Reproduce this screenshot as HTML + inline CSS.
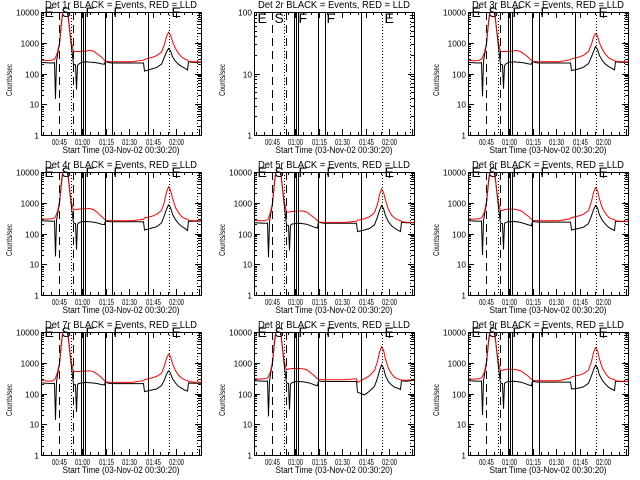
<!DOCTYPE html>
<html><head><meta charset="utf-8"><style>
html,body{margin:0;padding:0;background:#fff;}
svg{display:block;font-family:"Liberation Sans",sans-serif;}
line,rect{shape-rendering:crispEdges;}
</style></head><body>
<svg id="chart" width="640" height="480" viewBox="0 0 640 480" xmlns="http://www.w3.org/2000/svg">
<rect x="0" y="0" width="640" height="480" fill="#fff"/>
</svg>
<script>
// time grid, minutes since 00:00
const times = [33.5,36.7,39.9,41.8,42.5,43.1,43.8,45.0,46.3,47.6,48.9,50.2,51.4,52.7,54.0,55.3,55.9,56.6,57.2,59.1,62.3,64.3,66.8,69.4,72.0,73.9,74.5,75.8,78.4,91.2,98.9,99.5,104.0,107.2,110.4,112.4,113.7,114.9,116.2,117.5,119.4,121.3,123.3,125.2,127.1,127.7,131.0,136.0];
const detNames = ["1r","2r","3r","4r","5r","6r","7r","8r","9r"];
const red1 = [270,265,270,290,330,400,500,1000,5000,15000,20000,12000,3000,1000,520,520,520,520,520,530,540,570,530,430,340,270,250,245,240,240,270,290,330,380,500,900,1600,2200,1800,1100,650,450,350,300,270,250,240,240];
const blk1 = [230,225,220,225,15,250,400,900,4500,14000,18000,11000,2800,700,200,190,30,180,200,230,240,235,230,220,205,200,260,230,220,220,220,120,140,155,200,350,500,650,550,350,250,200,170,150,130,240,230,230];
const red3 = [270,260,265,290,330,400,500,1000,5000,15000,20000,12000,3000,1000,520,520,520,520,520,530,540,560,520,420,330,270,250,245,240,240,280,300,340,390,520,900,1500,2000,1700,1000,600,420,330,290,260,250,240,240];
const blk3 = [230,225,220,225,18,250,400,900,4500,14000,18000,11000,2800,700,200,190,32,180,200,230,240,235,230,220,205,200,255,230,220,220,220,125,140,160,210,350,520,750,600,380,260,200,170,150,130,240,230,230];
const red4 = [300,290,300,320,360,430,520,1100,5500,15000,20000,12000,3000,1000,600,600,610,620,620,630,640,650,600,480,360,290,270,265,260,260,290,320,360,420,560,1100,2200,3300,2600,1400,700,480,360,310,290,270,260,260];
const blk4 = [260,255,250,255,18,260,420,950,4500,14000,18000,11000,2800,700,220,210,30,200,220,240,245,240,235,220,200,195,260,245,240,240,240,130,150,165,220,400,600,850,700,420,280,210,170,150,125,250,250,250];
const red5 = [270,260,260,280,320,400,500,1000,5000,15000,20000,12000,3000,1000,500,500,500,510,520,530,540,540,500,400,320,260,240,235,230,230,250,270,300,350,480,900,1800,2800,2200,1200,600,400,320,280,260,245,230,230];
const blk5 = [225,220,215,220,17,240,400,900,4500,14000,18000,11000,2800,700,190,180,28,180,200,210,215,210,200,180,160,150,240,225,215,215,215,115,130,145,190,350,550,800,650,380,240,180,150,130,115,230,225,225];
const red6 = [300,290,300,320,360,430,520,1100,5500,15000,20000,12000,3000,1000,560,560,570,600,610,620,620,600,560,450,360,290,270,265,260,260,300,330,370,420,560,1100,2100,3100,2500,1300,650,450,340,300,280,260,250,250];
const blk6 = [260,255,250,255,20,260,420,950,4500,14000,18000,11000,2800,700,220,210,30,210,230,240,245,240,230,210,190,180,255,240,235,235,235,130,145,160,210,380,580,820,680,400,260,200,160,140,125,250,245,245];
const red7 = [270,255,250,280,320,400,500,1000,5000,15000,20000,12000,3000,1000,520,520,520,520,520,530,540,550,510,420,330,260,240,235,230,230,260,280,320,360,450,800,1400,1900,1600,950,550,400,320,280,260,245,235,235];
const blk7 = [220,215,210,215,14,240,400,900,4500,14000,18000,11000,2800,700,200,190,25,190,210,220,230,225,220,210,195,190,250,220,210,210,210,115,130,140,180,280,420,550,460,300,220,170,150,130,120,220,215,215];
const red8 = [300,295,300,320,360,430,520,1100,5500,15000,20000,12000,3000,1000,600,620,630,640,650,650,650,640,600,480,370,300,290,285,280,280,300,230,300,380,560,1100,2200,3300,2600,1300,650,440,340,300,280,270,270,280];
const blk8 = [260,255,250,255,18,260,420,950,4500,14000,18000,11000,2800,700,220,210,30,200,220,240,245,240,230,215,190,180,260,250,245,245,245,110,90,120,170,320,550,850,680,380,240,190,160,150,135,260,250,270];
const red9 = [300,290,300,320,360,430,520,1100,5500,15000,20000,12000,3000,1000,560,560,580,600,610,620,610,590,550,450,360,290,270,265,260,260,320,350,390,440,580,1100,2100,3100,2500,1300,650,450,340,300,280,260,250,250];
const blk9 = [260,255,250,255,20,260,420,950,4500,14000,18000,11000,2800,700,220,210,32,210,230,245,250,245,235,215,190,180,255,240,235,235,235,140,150,165,215,380,580,830,680,400,260,200,160,140,125,250,245,245];
const redSeries = [red1,null,red3,red4,red5,red6,red7,red8,red9];
const blkSeries = [blk1,null,blk3,blk4,blk5,blk6,blk7,blk8,blk9];
// event marker times (minutes)
const dashedTimes = [45.0,54.3];
const dottedTimes = [52.4,115.6,133.5];
const solidTimes = [59.1,60.4,61.7,74.8,79.0,102.1];
const letterTimes = [35.4,46.5,62.0,79.5,116.5];
const letterText = ["E","S","F","F","E"];
const xTickTimes = [45,60,75,90,105,120];
const xTickLabels = ["00:45","01:00","01:15","01:30","01:45","02:00"];

const NS = "http://www.w3.org/2000/svg";
const svg = document.getElementById("chart");
const T0 = 33.5, T1 = 136.0;
const PL = 41, PR = 201, PT = 12, PB = 135;
function mk(tag, attrs, parent){ const e=document.createElementNS(NS,tag); for(const k in attrs) e.setAttribute(k,attrs[k]); parent.appendChild(e); return e; }
function xs(t){ return Math.round(PL + (t - T0) / (T1 - T0) * (PR - PL)) + 0.5; }

for (let i = 0; i < 9; i++) {
  const col = i % 3, row = Math.floor(i / 3);
  const g = mk("g", {transform: "translate(" + Math.round(col * 213.33) + "," + (row * 160) + ")"}, svg);
  
  
  const empty = (i === 1);
  const decades = empty ? 2 : 4;
  function ys(v){ return PB - Math.log10(v) / decades * (PB - PT); }
  const cp = mk("clipPath", {id: "clip" + i}, g);
  mk("rect", {x: PL, y: PT, width: PR - PL, height: PB - PT}, cp);

  const title = mk("text", {x: 121, y: 8, "font-size": 10, "text-anchor": "middle", textLength: 152, lengthAdjust: "spacingAndGlyphs"}, g);
  title.textContent = "Det " + detNames[i] + " BLACK = Events, RED = LLD";
  
  

  if (!empty) {
    const dg = mk("g", {"clip-path": "url(#clip" + i + ")"}, g);
    const bp = times.map((t, k) => xs(t).toFixed(1) + "," + ys(blkSeries[i][k]).toFixed(1)).join(" ");
    const bl = mk("polyline", {points: bp, fill: "none", stroke: "#000", "stroke-width": 1}, dg);
    
    
    const rp = times.map((t, k) => xs(t).toFixed(1) + "," + ys(redSeries[i][k]).toFixed(1)).join(" ");
    const rl = mk("polyline", {points: rp, fill: "none", stroke: "#ff0000", "stroke-width": 1}, dg);
    
    
  }
  dashedTimes.forEach(t => { const l = mk("line", {x1: xs(t), x2: xs(t), y1: PT, y2: PB, stroke: "#000", "stroke-dasharray": "8,5"}, g);
      });
  dottedTimes.forEach(t => { const l = mk("line", {x1: xs(t), x2: xs(t), y1: PT, y2: PB, stroke: "#000", "stroke-dasharray": "1,2"}, g);
      });
  solidTimes.forEach(t => { const l = mk("line", {x1: xs(t), x2: xs(t), y1: PT, y2: PB, stroke: "#000", "stroke-width": 1}, g);
      });
  letterTimes.forEach((t, k) => { const tx = mk("text", {x: xs(t), y: empty ? 23 : 17, "font-size": 14}, g); tx.textContent = letterText[k];
      });

  const fr = mk("rect", {x: PL + 0.5, y: PT + 0.5, width: PR - PL, height: PB - PT, fill: "none", stroke: "#000", "stroke-width": 1}, g);
  
  

  for (let d = 0; d <= decades; d++) {
    const y = Math.round(ys(Math.pow(10, d))) + 0.5;
    mk("line", {x1: PL, x2: PL + 6, y1: y, y2: y, stroke: "#000"}, g);
    mk("line", {x1: PR, x2: PR - 6, y1: y, y2: y, stroke: "#000"}, g);
    const s = String(Math.pow(10, d));
    const lb = mk("text", {x: PL - 2, y: y + 3, "font-size": 8, "text-anchor": "end", textLength: s.length * 4.6, lengthAdjust: "spacingAndGlyphs"}, g);
    lb.textContent = s;
    
    
    if (d < decades) for (let m = 2; m <= 9; m++) {
      const ym = Math.round(ys(m * Math.pow(10, d))) + 0.5;
      mk("line", {x1: PL, x2: PL + 3, y1: ym, y2: ym, stroke: "#000"}, g);
      mk("line", {x1: PR, x2: PR - 3, y1: ym, y2: ym, stroke: "#000"}, g);
    }
  }
  for (let t = 35; t <= 135; t += 5) {
    const major = (t % 15 === 0);
    const x = xs(t), len = major ? 6 : 3;
    mk("line", {x1: x, x2: x, y1: PB, y2: PB - len, stroke: "#000"}, g);
    mk("line", {x1: x, x2: x, y1: PT, y2: PT + len, stroke: "#000"}, g);
  }
  xTickTimes.forEach((t, k) => { const lb = mk("text", {x: xs(t), y: 145, "font-size": 8, "text-anchor": "middle", textLength: 15, lengthAdjust: "spacingAndGlyphs"}, g);
    lb.textContent = xTickLabels[k];
      });
  const xt = mk("text", {x: 121, y: 153, "font-size": 9, "text-anchor": "middle", textLength: 117, lengthAdjust: "spacingAndGlyphs"}, g);
  xt.textContent = "Start Time (03-Nov-02 00:30:20)";
  
  
  const yt = mk("text", {x: 0, y: 0, "font-size": 8, "text-anchor": "middle", textLength: 32, lengthAdjust: "spacingAndGlyphs", transform: "translate(12,80) rotate(-90)"}, g);
  yt.textContent = "Counts/sec";
  
  
}
</script>
</body></html>
